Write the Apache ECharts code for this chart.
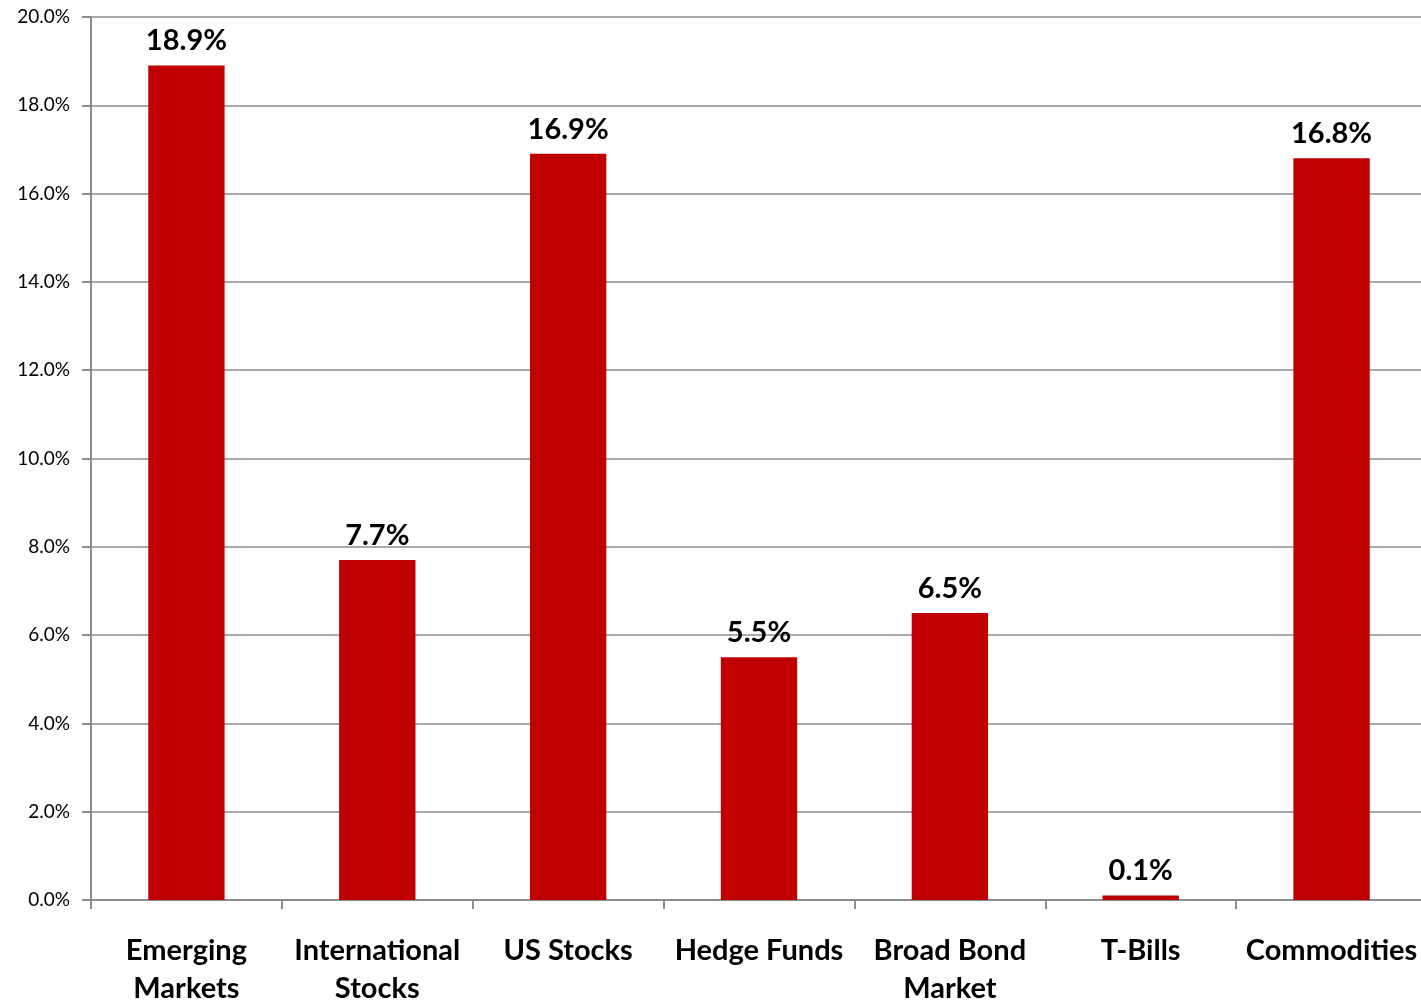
<!DOCTYPE html>
<html>
<head>
<meta charset="utf-8">
<script src="https://cdn.jsdelivr.net/npm/echarts@6/dist/echarts.min.js"></script>
<style>
  html, body { margin: 0; padding: 0; background: #fff; }
  #main { width: 1421px; height: 1005px; }
</style>
</head>
<body>
<div id="main"></div>
<script>
// asset classes and their returns (%)
var categories = ['Emerging\nMarkets', 'International\nStocks', 'US Stocks', 'Hedge Funds', 'Broad Bond\nMarket', 'T-Bills', 'Commodities'];
var returns = [18.9, 7.7, 16.9, 5.5, 6.5, 0.1, 16.8];
var yTicks = [0, 2, 4, 6, 8, 10, 12, 14, 16, 18, 20];

var chart = echarts.init(document.getElementById('main'));
var gray = '#8c8c8c';

chart.setOption({
    animation: false,
    // plot runs a little past the right edge, as in the original
    grid: {left: 91, right: -6, top: 17, bottom: 105, outerBoundsMode: 'none', containLabel: false},
    xAxis: {
        type: 'category',
        data: categories,
        axisLine: {lineStyle: {color: gray, width: 2}},
        axisTick: {show: true, length: 9, lineStyle: {color: gray, width: 2}},
        axisLabel: {
            interval: 0,
            margin: 32,
            color: '#000',
            fontFamily: 'Lato',
            fontWeight: 'bold',
            fontSize: 29,
            lineHeight: 38
        }
    },
    yAxis: {
        type: 'value',
        min: yTicks[0],
        max: yTicks[yTicks.length - 1],
        interval: 2,
        axisLine: {show: true, lineStyle: {color: gray, width: 2}},
        axisTick: {show: true, length: 9, lineStyle: {color: gray, width: 2}},
        splitLine: {lineStyle: {color: gray, width: 1.5}},
        axisLabel: {
            margin: 21,
            color: '#000',
            fontFamily: 'Lato',
            fontSize: 19,
            formatter: function (v) { return v.toFixed(1) + '%'; }
        }
    },
    series: [{
        type: 'bar',
        data: returns,
        barWidth: '40%',
        itemStyle: {color: '#C00000'},
        label: {
            show: true,
            position: 'top',
            distance: 10,
            color: '#000',
            fontFamily: 'Lato',
            fontWeight: 'bold',
            fontSize: 29,
            formatter: function (p) { return p.value.toFixed(1) + '%'; }
        }
    }]
});
</script>
</body>
</html>
